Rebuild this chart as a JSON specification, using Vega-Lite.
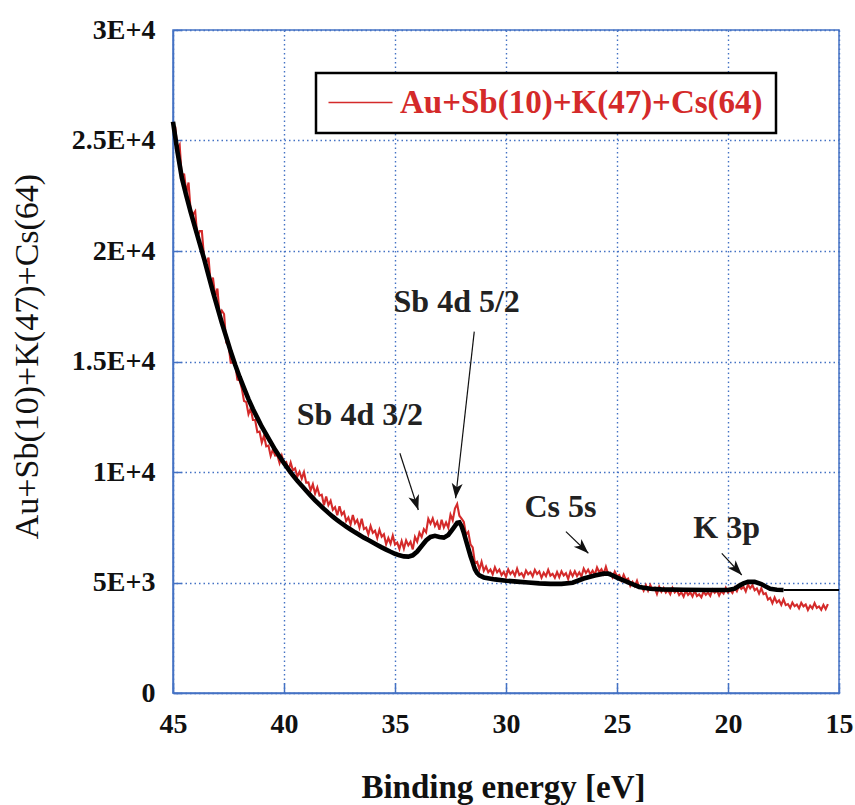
{
  "$schema": "https://vega.github.io/schema/vega-lite/v6.json",
  "width": 666,
  "height": 663,
  "autosize": {"type": "none"},
  "padding": {"left": 173, "top": 30, "right": 16, "bottom": 112},
  "background": "white",
  "config": {
    "font": "Liberation Serif",
    "view": {"stroke": "#4472C4", "strokeWidth": 1.5},
    "axis": {
      "domainColor": "#4472C4", "domainWidth": 1.5,
      "tickColor": "#4472C4", "tickWidth": 1.5,
      "gridColor": "#4472C4", "gridDash": [1.5, 3], "gridWidth": 1.4, "gridOpacity": 1,
      "labelFont": "Liberation Serif", "labelFontWeight": "bold", "labelColor": "#111",
      "titleFont": "Liberation Serif", "titleColor": "#111",
      "labelOverlap": false, "labelFlush": false
    },
    "legend": {"labelFont": "Liberation Serif"}
  },
  "datasets": {
    "red": [
      {"E":44.9,"I":25625},{"E":44.8,"I":24600},{"E":44.7,"I":24800},{"E":44.6,"I":23250},{"E":44.5,"I":23500},
      {"E":44.4,"I":22650},{"E":44.3,"I":23100},{"E":44.2,"I":21750},{"E":44.1,"I":21650},{"E":44.0,"I":21800},
      {"E":43.9,"I":20600},{"E":43.8,"I":20900},{"E":43.7,"I":20900},{"E":43.6,"I":19700},{"E":43.5,"I":19475},
      {"E":43.4,"I":19700},{"E":43.3,"I":18475},{"E":43.2,"I":18800},{"E":43.1,"I":17950},{"E":43.0,"I":18300},
      {"E":42.9,"I":17100},{"E":42.8,"I":17300},{"E":42.7,"I":17150},{"E":42.6,"I":15850},{"E":42.5,"I":15775},
      {"E":42.4,"I":14950},{"E":42.3,"I":14950},{"E":42.2,"I":14900},{"E":42.1,"I":14175},{"E":42.0,"I":14150},
      {"E":41.9,"I":13780},{"E":41.8,"I":13210},{"E":41.7,"I":13160},{"E":41.6,"I":12620},{"E":41.5,"I":12885},
      {"E":41.4,"I":12350},{"E":41.3,"I":12350},{"E":41.2,"I":11800},{"E":41.1,"I":11830},{"E":41.0,"I":11330},
      {"E":40.9,"I":11645},{"E":40.8,"I":11160},{"E":40.7,"I":11195},{"E":40.6,"I":10730},{"E":40.5,"I":11025},
      {"E":40.4,"I":10740},{"E":40.3,"I":10760},{"E":40.2,"I":10410},{"E":40.1,"I":10740},{"E":40.0,"I":10390},
      {"E":39.9,"I":10450},{"E":39.8,"I":10080},{"E":39.7,"I":10425},{"E":39.6,"I":10080},{"E":39.5,"I":10165},
      {"E":39.4,"I":9790},{"E":39.3,"I":10010},{"E":39.2,"I":9700},{"E":39.1,"I":9995},{"E":39.0,"I":9520},
      {"E":38.9,"I":9530},{"E":38.8,"I":9170},{"E":38.7,"I":9445},{"E":38.6,"I":9020},{"E":38.5,"I":9300},
      {"E":38.4,"I":8930},{"E":38.3,"I":8975},{"E":38.2,"I":8500},{"E":38.1,"I":8890},{"E":38.0,"I":8500},
      {"E":37.9,"I":8695},{"E":37.8,"I":8290},{"E":37.7,"I":8410},{"E":37.6,"I":8040},{"E":37.5,"I":8455},
      {"E":37.4,"I":8070},{"E":37.3,"I":8200},{"E":37.2,"I":7780},{"E":37.1,"I":7945},{"E":37.0,"I":7630},
      {"E":36.9,"I":8055},{"E":36.8,"I":7680},{"E":36.7,"I":7830},{"E":36.6,"I":7480},{"E":36.5,"I":7890},
      {"E":36.4,"I":7420},{"E":36.3,"I":7485},{"E":36.2,"I":7180},{"E":36.1,"I":7555},{"E":36.0,"I":7250},
      {"E":35.9,"I":7345},{"E":35.8,"I":7010},{"E":35.7,"I":7385},{"E":35.6,"I":7070},{"E":35.5,"I":7180},
      {"E":35.4,"I":6730},{"E":35.3,"I":7010},{"E":35.2,"I":6760},{"E":35.1,"I":7125},{"E":35.0,"I":6720},
      {"E":34.9,"I":6805},{"E":34.8,"I":6520},{"E":34.7,"I":6875},{"E":34.6,"I":6530},{"E":34.5,"I":6905},
      {"E":34.4,"I":6680},{"E":34.3,"I":6840},{"E":34.2,"I":6500},{"E":34.1,"I":7060},{"E":34.0,"I":6850},
      {"E":33.9,"I":7250},{"E":33.8,"I":7060},{"E":33.7,"I":7410},{"E":33.6,"I":7270},{"E":33.5,"I":7880},
      {"E":33.4,"I":7660},{"E":33.3,"I":7900},{"E":33.2,"I":7560},{"E":33.1,"I":7750},{"E":33.0,"I":7390},
      {"E":32.9,"I":7840},{"E":32.8,"I":7490},{"E":32.7,"I":7720},{"E":32.6,"I":7480},{"E":32.5,"I":8070},
      {"E":32.4,"I":7810},{"E":32.3,"I":8350},{"E":32.2,"I":8550},{"E":32.1,"I":8020},{"E":32.0,"I":7890},
      {"E":31.9,"I":7740},{"E":31.8,"I":7160},{"E":31.7,"I":7290},{"E":31.6,"I":6730},{"E":31.5,"I":6590},
      {"E":31.4,"I":5890},{"E":31.3,"I":5940},{"E":31.2,"I":5590},{"E":31.1,"I":5935},{"E":31.0,"I":5530},
      {"E":30.9,"I":5720},{"E":30.8,"I":5470},{"E":30.7,"I":5590},{"E":30.6,"I":5370},{"E":30.5,"I":5690},
      {"E":30.4,"I":5460},{"E":30.3,"I":5585},{"E":30.2,"I":5335},{"E":30.1,"I":5480},{"E":30.0,"I":5260},
      {"E":29.9,"I":5595},{"E":29.8,"I":5380},{"E":29.7,"I":5510},{"E":29.6,"I":5305},{"E":29.5,"I":5630},
      {"E":29.4,"I":5340},{"E":29.3,"I":5425},{"E":29.2,"I":5245},{"E":29.1,"I":5540},{"E":29.0,"I":5370},
      {"E":28.9,"I":5470},{"E":28.8,"I":5275},{"E":28.7,"I":5575},{"E":28.6,"I":5390},{"E":28.5,"I":5500},
      {"E":28.4,"I":5215},{"E":28.3,"I":5440},{"E":28.2,"I":5290},{"E":28.1,"I":5575},{"E":28.0,"I":5310},
      {"E":27.9,"I":5395},{"E":27.8,"I":5210},{"E":27.7,"I":5475},{"E":27.6,"I":5240},{"E":27.5,"I":5510},
      {"E":27.4,"I":5320},{"E":27.3,"I":5420},{"E":27.2,"I":5155},{"E":27.1,"I":5495},{"E":27.0,"I":5290},
      {"E":26.9,"I":5510},{"E":26.8,"I":5295},{"E":26.7,"I":5455},{"E":26.6,"I":5270},{"E":26.5,"I":5630},
      {"E":26.4,"I":5430},{"E":26.3,"I":5585},{"E":26.2,"I":5365},{"E":26.1,"I":5540},{"E":26.0,"I":5350},
      {"E":25.9,"I":5680},{"E":25.8,"I":5465},{"E":25.7,"I":5595},{"E":25.6,"I":5390},{"E":25.5,"I":5710},
      {"E":25.4,"I":5385},{"E":25.3,"I":5440},{"E":25.2,"I":5230},{"E":25.1,"I":5495},{"E":25.0,"I":5290},
      {"E":24.9,"I":5340},{"E":24.8,"I":5100},{"E":24.7,"I":5350},{"E":24.6,"I":5120},{"E":24.5,"I":5180},
      {"E":24.4,"I":4850},{"E":24.3,"I":5030},{"E":24.2,"I":4840},{"E":24.1,"I":5080},{"E":24.0,"I":4770},
      {"E":23.9,"I":4840},{"E":23.8,"I":4635},{"E":23.7,"I":4885},{"E":23.6,"I":4630},{"E":23.5,"I":4880},
      {"E":23.4,"I":4675},{"E":23.3,"I":4760},{"E":23.2,"I":4480},{"E":23.1,"I":4805},{"E":23.0,"I":4580},
      {"E":22.9,"I":4750},{"E":22.8,"I":4545},{"E":22.7,"I":4655},{"E":22.6,"I":4470},{"E":22.5,"I":4755},
      {"E":22.4,"I":4555},{"E":22.3,"I":4660},{"E":22.2,"I":4430},{"E":22.1,"I":4555},{"E":22.0,"I":4360},
      {"E":21.9,"I":4635},{"E":21.8,"I":4435},{"E":21.7,"I":4550},{"E":21.6,"I":4365},{"E":21.5,"I":4630},
      {"E":21.4,"I":4390},{"E":21.3,"I":4465},{"E":21.2,"I":4325},{"E":21.1,"I":4590},{"E":21.0,"I":4445},
      {"E":20.9,"I":4550},{"E":20.8,"I":4395},{"E":20.7,"I":4675},{"E":20.6,"I":4535},{"E":20.5,"I":4645},
      {"E":20.4,"I":4415},{"E":20.3,"I":4615},{"E":20.2,"I":4505},{"E":20.1,"I":4760},{"E":20.0,"I":4550},
      {"E":19.9,"I":4650},{"E":19.8,"I":4525},{"E":19.7,"I":4770},{"E":19.6,"I":4605},{"E":19.5,"I":4860},
      {"E":19.4,"I":4710},{"E":19.3,"I":4810},{"E":19.2,"I":4600},{"E":19.1,"I":4905},{"E":19.0,"I":4740},
      {"E":18.9,"I":4880},{"E":18.8,"I":4650},{"E":18.7,"I":4735},{"E":18.6,"I":4500},{"E":18.5,"I":4735},
      {"E":18.4,"I":4475},{"E":18.3,"I":4515},{"E":18.2,"I":4230},{"E":18.1,"I":4305},{"E":18.0,"I":4060},
      {"E":17.9,"I":4320},{"E":17.8,"I":4100},{"E":17.7,"I":4195},{"E":17.6,"I":3990},{"E":17.5,"I":4240},
      {"E":17.4,"I":3975},{"E":17.3,"I":4025},{"E":17.2,"I":3855},{"E":17.1,"I":4095},{"E":17.0,"I":3925},
      {"E":16.9,"I":4005},{"E":16.8,"I":3830},{"E":16.7,"I":4080},{"E":16.6,"I":3920},{"E":16.5,"I":4005},
      {"E":16.4,"I":3760},{"E":16.3,"I":3950},{"E":16.2,"I":3825},{"E":16.1,"I":4070},{"E":16.0,"I":3850},
      {"E":15.9,"I":3920},{"E":15.8,"I":3765},{"E":15.7,"I":3985},{"E":15.6,"I":3795},{"E":15.5,"I":4025}
    ],
    "black": [
      {"E":45.0,"I":25850},{"E":44.8,"I":24500},{"E":44.6,"I":23300},{"E":44.4,"I":22500},{"E":44.2,"I":21750},
      {"E":44.0,"I":21050},{"E":43.8,"I":20350},{"E":43.6,"I":19650},{"E":43.4,"I":18900},{"E":43.2,"I":18150},
      {"E":43.0,"I":17450},{"E":42.8,"I":16750},{"E":42.6,"I":16100},{"E":42.4,"I":15450},{"E":42.2,"I":14850},
      {"E":42.0,"I":14300},{"E":41.8,"I":13800},{"E":41.6,"I":13300},{"E":41.4,"I":12850},{"E":41.2,"I":12450},
      {"E":41.0,"I":12050},{"E":40.8,"I":11700},{"E":40.6,"I":11350},{"E":40.4,"I":11000},{"E":40.2,"I":10700},
      {"E":40.0,"I":10400},{"E":39.8,"I":10120},{"E":39.6,"I":9850},{"E":39.4,"I":9600},{"E":39.2,"I":9380},
      {"E":39.0,"I":9150},{"E":38.8,"I":8930},{"E":38.6,"I":8720},{"E":38.4,"I":8520},{"E":38.2,"I":8330},
      {"E":38.0,"I":8150},{"E":37.8,"I":7980},{"E":37.6,"I":7820},{"E":37.4,"I":7670},{"E":37.2,"I":7530},
      {"E":37.0,"I":7400},{"E":36.8,"I":7270},{"E":36.6,"I":7150},{"E":36.4,"I":7030},{"E":36.2,"I":6920},
      {"E":36.0,"I":6810},{"E":35.8,"I":6700},{"E":35.6,"I":6590},{"E":35.4,"I":6490},{"E":35.2,"I":6390},
      {"E":35.0,"I":6300},{"E":34.8,"I":6230},{"E":34.6,"I":6180},{"E":34.4,"I":6170},{"E":34.2,"I":6230},
      {"E":34.0,"I":6400},{"E":33.8,"I":6650},{"E":33.6,"I":6900},{"E":33.4,"I":7060},{"E":33.2,"I":7110},
      {"E":33.0,"I":7060},{"E":32.8,"I":7030},{"E":32.6,"I":7150},{"E":32.4,"I":7420},{"E":32.2,"I":7700},
      {"E":32.1,"I":7720},{"E":32.0,"I":7550},{"E":31.9,"I":7250},{"E":31.8,"I":6900},{"E":31.7,"I":6550},
      {"E":31.6,"I":6200},{"E":31.5,"I":5900},{"E":31.4,"I":5600},{"E":31.3,"I":5420},{"E":31.2,"I":5320},
      {"E":31.0,"I":5230},{"E":30.5,"I":5140},{"E":30.0,"I":5080},{"E":29.5,"I":5040},{"E":29.0,"I":5000},
      {"E":28.5,"I":4960},{"E":28.0,"I":4940},{"E":27.5,"I":4940},{"E":27.0,"I":4990},{"E":26.5,"I":5180},
      {"E":26.0,"I":5320},{"E":25.6,"I":5400},{"E":25.4,"I":5400},{"E":25.2,"I":5320},{"E":25.0,"I":5220},
      {"E":24.6,"I":5050},{"E":24.2,"I":4880},{"E":24.0,"I":4800},{"E":23.5,"I":4720},{"E":23.0,"I":4690},
      {"E":22.0,"I":4670},{"E":21.0,"I":4660},{"E":20.0,"I":4660},{"E":19.7,"I":4720},{"E":19.5,"I":4850},
      {"E":19.3,"I":4960},{"E":19.1,"I":5030},{"E":18.8,"I":5030},{"E":18.5,"I":4930},{"E":18.3,"I":4820},
      {"E":18.1,"I":4720},{"E":17.8,"I":4670},{"E":17.5,"I":4660}
    ],
    "blackTail": [
      {"E":17.5,"I":4660},{"E":15.0,"I":4660}
    ],
    "notes": [
      {"E":32.22,"I":17254,"T":"Sb 4d 5/2"},
      {"E":36.58,"I":12127,"T":"Sb 4d 3/2"},
      {"E":27.55,"I":7950,"T":"Cs 5s"},
      {"E":20.06,"I":7000,"T":"K 3p"}
    ],
    "arrows": [
      {"E":31.43,"I":16349,"E2":32.27,"I2":8810},
      {"E":34.78,"I":10846,"E2":33.95,"I2":8281},
      {"E":27.30,"I":7299,"E2":26.29,"I2":6321},
      {"E":20.28,"I":6321,"E2":19.38,"I2":5340}
    ]
  },
  "encoding": {
    "x": {
      "field": "E", "type": "quantitative",
      "scale": {"domain": [15, 45], "reverse": true, "nice": false, "zero": false},
      "axis": {
        "values": [15, 20, 25, 30, 35, 40, 45], "format": "d",
        "title": "Binding energy [eV]", "titleX": 330, "titleY": 104,
        "titleAlign": "center", "titleBaseline": "alphabetic",
        "titleFont": "Liberation Serif", "titleFontSize": 33, "titleFontWeight": "bold",
        "labelFont": "Liberation Serif", "labelFontSize": 28, "labelPadding": 27, "tickSize": -10, "grid": true
      }
    },
    "y": {
      "field": "I", "type": "quantitative",
      "scale": {"domain": [0, 30000], "nice": false},
      "axis": {
        "values": [0, 5000, 10000, 15000, 20000, 25000, 30000],
        "labelExpr": "datum.value == 0 ? '0' : datum.value == 5000 ? '5E+3' : datum.value == 10000 ? '1E+4' : datum.value == 15000 ? '1.5E+4' : datum.value == 20000 ? '2E+4' : datum.value == 25000 ? '2.5E+4' : '3E+4'",
        "title": "Au+Sb(10)+K(47)+Cs(64)", "titleFont": "Liberation Serif", "titleFontWeight": "normal", "titleFontSize": 34,
        "titleAngle": 270, "titleX": -146, "titleY": 326, "titleAlign": "center", "titleBaseline": "middle",
        "labelFont": "Liberation Serif", "labelFontSize": 28, "labelPadding": 26, "tickSize": -8, "grid": true
      }
    }
  },
  "layer": [
    {
      "data": {"name": "red"},
      "mark": {"type": "line", "strokeWidth": 2.1},
      "encoding": {
        "color": {
          "datum": "Au+Sb(10)+K(47)+Cs(64)",
          "scale": {"range": ["#d42a2a"]},
          "legend": {
            "orient": "none", "legendX": 143, "legendY": 43, "title": null,
            "symbolType": "M-3.2,0L3.2,0", "symbolSize": 400, "symbolStrokeWidth": 1.5,
            "symbolStrokeColor": "#d42a2a", "symbolFillColor": "transparent",
            "symbolOffset": 15,
            "labelFontSize": 33, "labelFont": "Liberation Serif", "labelFontWeight": "bold",
            "labelColor": "#d42a2a", "labelOffset": 23, "labelLimit": 0,
            "padding": 13, "strokeColor": "black", "fillColor": "white",
            "encode": {"legend": {"update": {"strokeWidth": {"value": 2.5}}}}
          }
        }
      }
    },
    {
      "data": {"name": "black"},
      "mark": {"type": "line", "color": "black", "strokeWidth": 4.6},
      "encoding": {}
    },
    {
      "data": {"name": "blackTail"},
      "mark": {"type": "line", "color": "black", "strokeWidth": 2},
      "encoding": {}
    },
    {
      "data": {"name": "arrows"},
      "mark": {"type": "rule", "color": "#111", "strokeWidth": 1.2},
      "encoding": {"x2": {"field": "E2"}, "y2": {"field": "I2"}}
    },
    {
      "data": {"values": [{"E":32.27,"I":8810}]},
      "mark": {"type": "point", "shape": "M0,0 L-0.55,1.5 L0,1.1 L0.55,1.5 Z", "filled": true, "color": "#111", "opacity": 1, "size": 400, "angle": 186},
      "encoding": {}
    },
    {
      "data": {"values": [{"E":33.95,"I":8281}]},
      "mark": {"type": "point", "shape": "M0,0 L-0.55,1.5 L0,1.1 L0.55,1.5 Z", "filled": true, "color": "#111", "opacity": 1, "size": 400, "angle": 162},
      "encoding": {}
    },
    {
      "data": {"values": [{"E":26.29,"I":6321}]},
      "mark": {"type": "point", "shape": "M0,0 L-0.55,1.5 L0,1.1 L0.55,1.5 Z", "filled": true, "color": "#111", "opacity": 1, "size": 400, "angle": 134},
      "encoding": {}
    },
    {
      "data": {"values": [{"E":19.38,"I":5340}]},
      "mark": {"type": "point", "shape": "M0,0 L-0.55,1.5 L0,1.1 L0.55,1.5 Z", "filled": true, "color": "#111", "opacity": 1, "size": 400, "angle": 137},
      "encoding": {}
    },
    {
      "data": {"name": "notes"},
      "mark": {"type": "text", "font": "Liberation Serif", "fontWeight": "bold", "fontSize": 32, "color": "#222", "align": "center", "baseline": "alphabetic"},
      "encoding": {"text": {"field": "T"}}
    }
  ]
}
